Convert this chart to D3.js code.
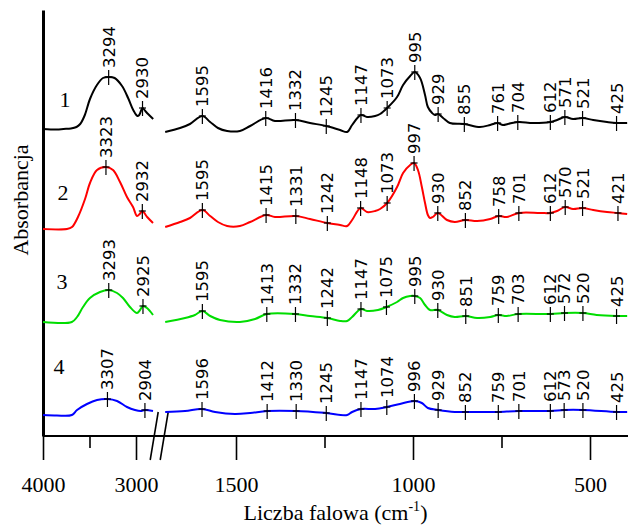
<!DOCTYPE html>
<html>
<head>
<meta charset="utf-8">
<script src="https://cdn.jsdelivr.net/npm/d3@7"></script>
<style>
  body { margin: 0; background: #fff; }
  svg { display: block; }
  .serif { font-family: "Liberation Serif", "Times New Roman", serif; }
  .peak text { font-family: "DejaVu Sans", sans-serif; font-size: 16.5px; }
</style>
</head>
<body>
<svg></svg>
<script>
// spectra: [wavenumber, absorbance], split at the axis break
var s1Left = [[4000,3.07],[3850,3.065],[3780,3.07],[3700,3.075],[3640,3.09],[3600,3.12],[3550,3.21],[3495,3.37],[3420,3.51],[3355,3.58],[3294,3.59],[3230,3.58],[3150,3.50],[3085,3.38],[3030,3.26],[2985,3.20],[2965,3.21],[2930,3.28],[2900,3.25],[2870,3.22],[2815,3.17]];
var s1Right = [[1700,3.04],[1658,3.08],[1630,3.12],[1595,3.20],[1573,3.14],[1551,3.08],[1525,3.05],[1489,3.05],[1460,3.10],[1416,3.18],[1390,3.15],[1332,3.16],[1291,3.13],[1245,3.10],[1206,3.06],[1186,3.04],[1172,3.11],[1147,3.21],[1130,3.19],[1107,3.20],[1093,3.22],[1073,3.28],[1045,3.39],[1028,3.51],[1008,3.60],[995,3.64],[980,3.58],[966,3.41],[958,3.29],[946,3.23],[938,3.21],[929,3.22],[915,3.18],[896,3.13],[855,3.12],[811,3.09],[782,3.11],[761,3.13],[746,3.11],[732,3.12],[704,3.14],[661,3.13],[612,3.14],[593,3.16],[571,3.19],[548,3.17],[521,3.18],[491,3.16],[452,3.14],[425,3.13],[395,3.13]];

var s2Left = [[4000,2.07],[3742,2.07],[3688,2.09],[3624,2.19],[3548,2.37],[3495,2.53],[3419,2.66],[3323,2.69],[3247,2.66],[3172,2.54],[3097,2.39],[3032,2.29],[2989,2.20],[2960,2.22],[2932,2.25],[2880,2.19],[2817,2.13]];
var s2Right = [[1700,2.09],[1658,2.14],[1630,2.18],[1595,2.26],[1573,2.20],[1551,2.14],[1525,2.10],[1489,2.10],[1460,2.14],[1415,2.21],[1390,2.19],[1331,2.20],[1291,2.17],[1242,2.13],[1206,2.11],[1186,2.10],[1172,2.16],[1148,2.28],[1130,2.24],[1107,2.25],[1093,2.27],[1073,2.33],[1045,2.49],[1028,2.63],[1008,2.71],[997,2.73],[986,2.66],[975,2.49],[966,2.33],[958,2.21],[952,2.18],[944,2.19],[930,2.23],[904,2.16],[882,2.14],[852,2.16],[819,2.15],[782,2.17],[758,2.20],[735,2.19],[701,2.23],[641,2.23],[612,2.23],[593,2.25],[570,2.29],[548,2.27],[521,2.28],[491,2.26],[452,2.24],[421,2.23],[395,2.22]];

var s3Left = [[4000,1.14],[3690,1.14],[3634,1.19],[3570,1.29],[3495,1.38],[3387,1.44],[3293,1.46],[3204,1.43],[3140,1.38],[3065,1.29],[2989,1.23],[2957,1.26],[2925,1.30],[2882,1.28],[2817,1.21]];
var s3Right = [[1700,1.14],[1644,1.18],[1616,1.21],[1595,1.25],[1573,1.20],[1545,1.16],[1489,1.14],[1446,1.17],[1413,1.22],[1332,1.22],[1291,1.20],[1242,1.18],[1206,1.15],[1186,1.15],[1172,1.19],[1147,1.27],[1130,1.25],[1099,1.26],[1075,1.29],[1045,1.34],[1028,1.38],[1008,1.40],[995,1.40],[980,1.38],[966,1.31],[952,1.26],[930,1.26],[904,1.21],[882,1.19],[851,1.20],[819,1.18],[782,1.19],[759,1.21],[735,1.20],[703,1.22],[612,1.22],[572,1.23],[520,1.23],[481,1.21],[425,1.20],[395,1.20]];

var s4Left = [[4000,0.21],[3850,0.205],[3690,0.21],[3634,0.26],[3527,0.32],[3419,0.36],[3307,0.37],[3204,0.35],[3097,0.29],[3011,0.26],[2950,0.25],[2904,0.26],[2817,0.25]];
var s4Right = [[1700,0.24],[1644,0.25],[1596,0.27],[1559,0.24],[1503,0.22],[1460,0.23],[1412,0.25],[1330,0.25],[1245,0.23],[1186,0.21],[1172,0.24],[1147,0.27],[1107,0.27],[1074,0.29],[1037,0.32],[996,0.35],[975,0.33],[958,0.28],[929,0.26],[882,0.24],[852,0.24],[782,0.24],[759,0.24],[701,0.25],[612,0.25],[573,0.26],[520,0.26],[425,0.24],[395,0.24]];

// labelled peaks
var peaks1 = [3294,2930,1595,1416,1332,1245,1147,1073,995,929,855,761,704,612,571,521,425];
var peaks2 = [3323,2932,1595,1415,1331,1242,1148,1073,997,930,852,758,701,612,570,521,421];
var peaks3 = [3293,2925,1595,1413,1332,1242,1147,1075,995,930,851,759,703,612,572,520,425];
var peaks4 = [3307,2904,1596,1412,1330,1245,1147,1074,996,929,852,759,701,612,573,520,425];

var seriesNames = ["1", "2", "3", "4"];
var seriesColors = ["#000000", "#ff0000", "#00dd00", "#0000ff"];
// where the series number sits: [wavenumber, absorbance]
var namePos = [[3763,3.29],[3785,2.36],[3796,1.47],[3828,0.62]];

var majorLeft = [4000, 3000], minorLeft = [3500];
var majorRight = [1500, 1000, 500], minorRight = [1250, 750];

var width = 628, height = 526;
var svg = d3.select("svg").attr("width", width).attr("height", height);

var y = d3.scaleLinear().domain([0, 4.26]).range([436, 10]);
var xLeft = d3.scaleLinear().domain([4000, 3000]).range([43, 136]);
var xRight = d3.scaleLinear().domain([1500, 500]).range([236, 590]);
function xPos(w) { return w > 2000 ? xLeft(w) : xRight(w); }

var y0 = y(0);

// y axis: thick bar, no ticks
svg.append("g")
  .attr("transform", "translate(" + xLeft(4000) + ",0)")
  .call(d3.axisLeft(y).tickValues([]).tickSizeOuter(0))
  .select(".domain").attr("stroke-width", 3);

// x axis baseline
svg.append("line")
  .attr("x1", xLeft(4000)).attr("x2", width)
  .attr("y1", y0).attr("y2", y0)
  .attr("stroke", "#000").attr("stroke-width", 2);

function xAxis(scale, major, minor) {
  var g = svg.append("g").attr("class", "serif").attr("transform", "translate(0," + y0 + ")")
    .call(d3.axisBottom(scale).tickValues(major).tickSize(24).tickPadding(16).tickFormat(d3.format("d")));
  var m = svg.append("g").attr("transform", "translate(0," + y0 + ")")
    .call(d3.axisBottom(scale).tickValues(minor).tickSize(12).tickFormat(""));
  g.selectAll(".domain").remove();
  m.selectAll(".domain").remove();
  g.selectAll(".tick line").attr("stroke-width", 1.6);
  m.selectAll(".tick line").attr("stroke-width", 1.6);
  g.selectAll(".tick text").attr("font-size", 22).attr("font-family", "Liberation Serif, serif").attr("fill", "#000");
}
xAxis(xLeft, majorLeft, minorLeft);
xAxis(xRight, majorRight, minorRight);

// break marks
var gap = (xLeft(2815) + xRight(1700)) / 2;
[-5, 5].forEach(function (o) {
  svg.append("line")
    .attr("x1", gap + o - 4).attr("y1", y0 + 24)
    .attr("x2", gap + o + 4).attr("y2", y0 - 24)
    .attr("stroke", "#000").attr("stroke-width", 1.6);
});

var line = d3.line()
  .x(function (d) { return xPos(d[0]); })
  .y(function (d) { return y(d[1]); })
  .curve(d3.curveCatmullRom.alpha(0.5));

var spectra = [
  {left: s1Left, right: s1Right, peaks: peaks1},
  {left: s2Left, right: s2Right, peaks: peaks2},
  {left: s3Left, right: s3Right, peaks: peaks3},
  {left: s4Left, right: s4Right, peaks: peaks4}
];

function valueAt(s, w) {
  var arr = w > 2000 ? s.left : s.right;
  for (var i = 0; i < arr.length - 1; i++) {
    var a = arr[i], b = arr[i + 1];
    if (w <= a[0] && w >= b[0]) {
      return a[1] + (b[1] - a[1]) * (a[0] - w) / (a[0] - b[0]);
    }
  }
  return arr[arr.length - 1][1];
}

spectra.forEach(function (s, i) {
  [s.left, s.right].forEach(function (part) {
    svg.append("path")
      .datum(part)
      .attr("d", line)
      .attr("fill", "none")
      .attr("stroke", seriesColors[i])
      .attr("stroke-width", 2);
  });

  var pk = svg.append("g").attr("class", "peak")
    .selectAll("g").data(s.peaks).enter().append("g")
    .attr("transform", function (w) { return "translate(" + xPos(w) + "," + y(valueAt(s, w)) + ")"; });
  pk.append("line").attr("x1", 0).attr("x2", 0).attr("y1", -7).attr("y2", 8)
    .attr("stroke", "#000").attr("stroke-width", 1.2);
  pk.append("line").attr("x1", -3.5).attr("x2", 3.5).attr("y1", 0).attr("y2", 0)
    .attr("stroke", "#000").attr("stroke-width", 1.2);
  pk.append("text")
    .attr("transform", "translate(0,-9) rotate(-90)")
    .attr("dy", "0.36em")
    .attr("fill", "#000")
    .text(function (w) { return w; });

  svg.append("text")
    .attr("class", "serif")
    .attr("x", xLeft(namePos[i][0]))
    .attr("y", y(namePos[i][1]))
    .attr("text-anchor", "middle")
    .attr("font-size", 22)
    .text(seriesNames[i]);
});

// axis titles
var xt = svg.append("text")
  .attr("class", "serif")
  .attr("x", (xLeft(4000) + width) / 2)
  .attr("y", 520)
  .attr("text-anchor", "middle")
  .attr("font-size", 22);
xt.append("tspan").text("Liczba falowa (cm");
xt.append("tspan").attr("font-size", 14).attr("dy", -9).text("-1");
xt.append("tspan").attr("dy", 9).text(")");

svg.append("text")
  .attr("class", "serif")
  .attr("transform", "translate(28,200) rotate(-90)")
  .attr("text-anchor", "middle")
  .attr("font-size", 22)
  .text("Absorbancja");
</script>
</body>
</html>
